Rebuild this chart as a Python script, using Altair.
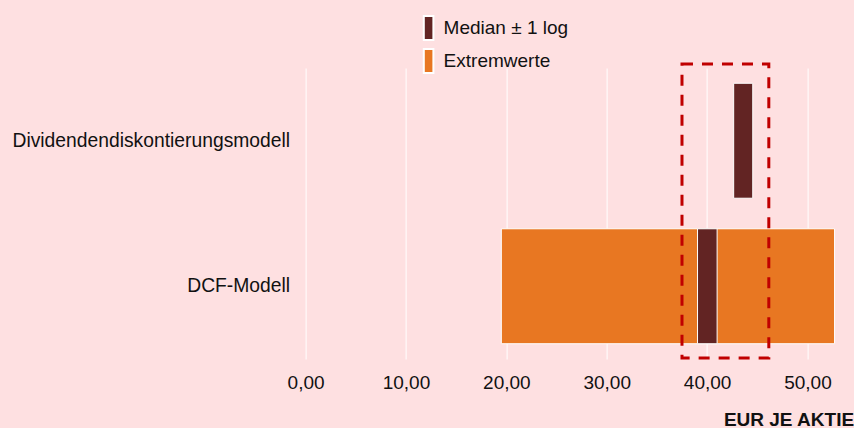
import altair as alt
import pandas as pd

# Bewertungsverfahren und Wertspannen (EUR je Aktie)
models = ["Dividendendiskontierungsmodell", "DCF-Modell"]
extreme_low = [None, 19.5]
extreme_high = [None, 52.7]
median_low = [42.65, 39.05]
median_high = [44.55, 41.0]

# Hervorgehobener Bereich
focus_low = 37.5
focus_high = 46.15

ticks = [0, 10, 20, 30, 40, 50]

SERIES_MED = "Median ± 1 log"
SERIES_EXT = "Extremwerte"

rows = []
for m, lo, hi in zip(models, extreme_low, extreme_high):
    if lo is not None:
        rows.append({"model": m, "series": SERIES_EXT, "start": lo, "end": hi})
for m, lo, hi in zip(models, median_low, median_high):
    rows.append({"model": m, "series": SERIES_MED, "start": lo, "end": hi})
bars_df = pd.DataFrame(rows)
focus_df = pd.DataFrame({"lo": [focus_low], "hi": [focus_high]})

BG = "#fee0e1"
FONT = "Liberation Sans"
TEXT = "#111111"

x_scale = alt.Scale(domain=[0, 54], nice=False, zero=True)

bars = alt.Chart(bars_df).mark_bar(stroke="white", strokeWidth=1).encode(
    y=alt.Y(
        "model:N",
        sort=models,
        scale=alt.Scale(paddingInner=0.21, paddingOuter=0.105),
        axis=alt.Axis(
            title=None, domain=False, ticks=False, grid=False,
            labelFontSize=19.3, labelColor=TEXT, labelPadding=16, labelFont=FONT,
            labelLimit=0,
        ),
    ),
    x=alt.X(
        "start:Q",
        scale=x_scale,
        axis=alt.Axis(
            title="EUR JE AKTIE",
            values=ticks,
            labelExpr="replace(format(datum.value, '.2f'), '.', ',')",
            labelFlush=False,
            domain=False, ticks=False, grid=True, gridColor="white", gridWidth=1,
            labelFontSize=19, labelColor=TEXT, labelPadding=14, labelFont=FONT,
            titleFontSize=19, titleFontWeight="bold", titleColor=TEXT, titleFont=FONT,
            titleAnchor="end", titleAlign="right", titleBaseline="alphabetic",
            titleX=548, titleY=66,
        ),
    ),
    x2="end:Q",
    color=alt.Color(
        "series:N",
        scale=alt.Scale(domain=[SERIES_MED, SERIES_EXT], range=["#622423", "#e87722"]),
        legend=alt.Legend(
            title=None, orient="none", legendX=110, legendY=-53,
            symbolType="M-0.4,-1H0.4V1H-0.4Z", symbolSize=576,
            symbolStrokeColor="white", symbolStrokeWidth=2, symbolOpacity=1,
            labelFontSize=19, labelColor=TEXT, labelFont=FONT,
            labelOffset=2, rowPadding=1, padding=0,
        ),
    ),
)

focus = alt.Chart(focus_df).mark_rect(
    fillOpacity=0, stroke="#c00000", strokeWidth=3, strokeDash=[11, 9]
).encode(
    x=alt.X("lo:Q", scale=x_scale),
    x2="hi:Q",
    y=alt.value(-4),
    y2=alt.value(290),
)

chart = (
    alt.layer(bars, focus)
    .properties(
        width=542,
        height=291,
        background=BG,
        padding={"left": 305.6, "top": 68, "right": 6.4, "bottom": 69},
        autosize=alt.AutoSizeParams(type="none"),
    )
    .configure_view(stroke=None, fill=BG)
)

chart.save("out.html", embed_options={"renderer": "svg", "actions": False})
